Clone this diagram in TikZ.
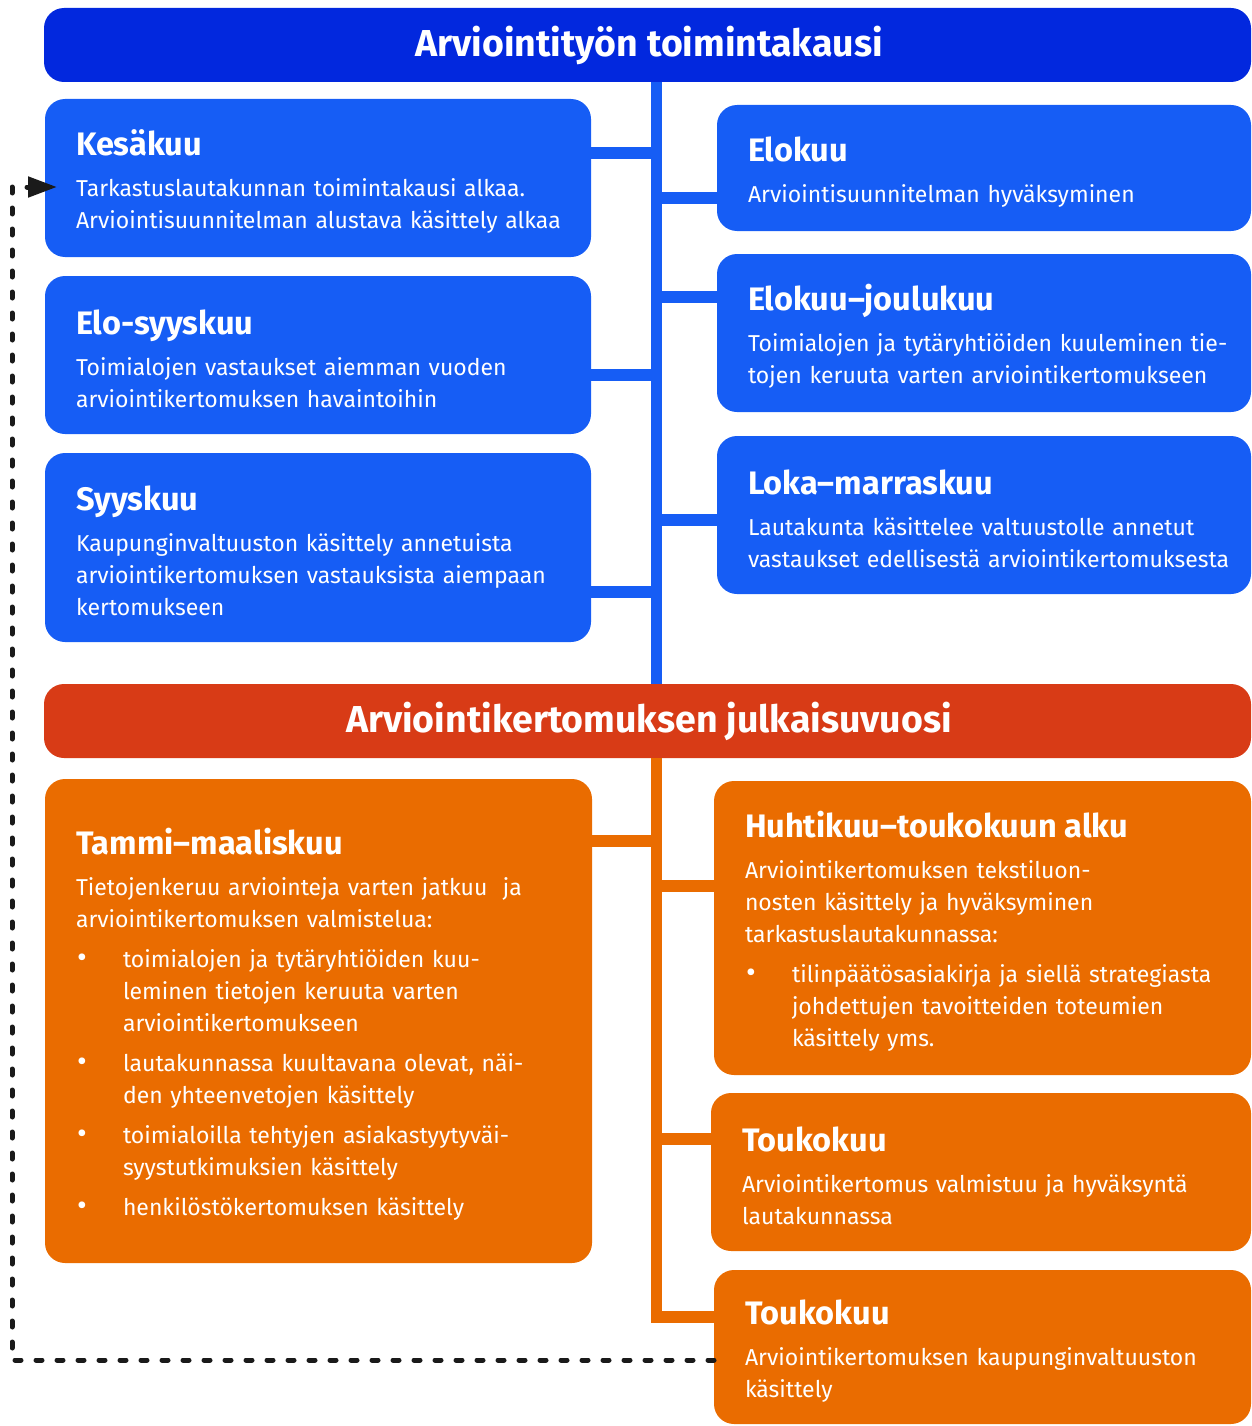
\documentclass[tikz,border=0pt]{standalone}
\usepackage{fontspec}
\setmainfont{Fira Sans}
\usetikzlibrary{arrows.meta}

\definecolor{headblue}{RGB}{2,40,222}
\definecolor{boxblue}{RGB}{22,93,245}
\definecolor{headred}{RGB}{216,59,22}
\definecolor{boxorange}{RGB}{234,108,0}
\definecolor{loopblack}{RGB}{26,26,26}

\newcommand\bodyfont{\fontsize{23}{32}\selectfont}
\newcommand\nl{\unskip\hfil\break}
\newcommand\bitem[1]{\par\vspace{8pt}\hangindent=47pt\hangafter=1\noindent\makebox[47pt][l]{\hspace{1pt}\scalebox{1.3}{\textbullet}}#1}
% title + body, paragraphs closed inside the node text
\newcommand\boxtext[2]{\parindent=0pt \rightskip=0pt plus 1fil minus 400pt \parfillskip=0pt plus 1fil
    {\fontsize{32.5}{34}\selectfont\bfseries\rule{0pt}{32pt}#1\par}\vspace{9pt}#2\par}

\begin{document}
\begin{tikzpicture}[x=1pt, y=-1pt]
    \tikzstyle{every node} = [inner sep = 0pt, outer sep = 0pt];
    \tikzstyle{head} = [anchor = north west, rectangle, rounded corners = 20pt, minimum width = 1207pt, minimum height = 74pt, text = white, font = \fontsize{37.5}{40}\selectfont\bfseries];
    \tikzstyle{tbox} = [anchor = north west, rectangle, rounded corners = 20pt, inner xsep = 31pt, text = white, font = \bodyfont];
    \tikzstyle{bbox} = [tbox, fill = boxblue];
    \tikzstyle{obox} = [tbox, fill = boxorange];
    \tikzstyle{bbar} = [draw = boxblue, line width = 11.5pt];
    \tikzstyle{obar} = [draw = boxorange, line width = 11.5pt];
    \tikzstyle{loop} = [draw = loopblack, line width = 5pt, line cap = round, dash pattern = on 6pt off 15pt];
    \useasboundingbox (0,0) rectangle (1251,1426);
    % headers:
    \node[head, fill = headblue] (head1) at (44,8) {\hspace{3pt}Arviointityön toimintakausi};
    \node[head, fill = headred] (head2) at (44,684) {\hspace{3pt}Arviointikertomuksen julkaisuvuosi};
    % spines:
    \coordinate (bspine) at (656.5,0);
    \coordinate (ospine) at (656.5,0);
    \coordinate (loopx) at (12,700);
    % blue boxes:
    \node[bbox, text width = 484pt, minimum height = 158pt] (kes) at (45,99) {\boxtext{Kesäkuu}{Tarkastuslautakunnan toimintakausi alkaa.\nl Arviointisuunnitelman alustava käsittely alkaa}};
    \node[bbox, text width = 484pt, minimum height = 158pt] (elosyys) at (45,276) {\boxtext{Elo-syyskuu}{Toimialojen vastaukset aiemman vuoden\nl arviointikertomuksen havaintoihin}};
    \node[bbox, text width = 484pt, minimum height = 189pt] (syys) at (45,453) {\boxtext{Syyskuu}{Kaupunginvaltuuston käsittely annetuista\nl arviointikertomuksen vastauksista aiempaan\nl kertomukseen}};
    \node[bbox, text width = 472pt, minimum height = 126pt] (elo) at (717,105) {\boxtext{Elokuu}{Arviointisuunnitelman hyväksyminen}};
    \node[bbox, text width = 472pt, minimum height = 158pt] (elojoulu) at (717,254) {\boxtext{Elokuu–joulukuu}{Toimialojen ja tytäryhtiöiden kuuleminen tie-\nl tojen keruuta varten arviointikertomukseen}};
    \node[bbox, text width = 472pt, minimum height = 158pt] (lokamarras) at (717,436) {\boxtext{Loka–marraskuu}{Lautakunta käsittelee valtuustolle annetut\nl vastaukset edellisestä arviointikertomuksesta}};
    % orange boxes:
    \node[obox, text width = 485pt, minimum height = 484pt] (tammi) at (45,779) {\boxtext{Tammi–maaliskuu}{Tietojenkeruu arviointeja varten jatkuu\ \ ja\nl arviointikertomuksen valmistelua:%
        \bitem{toimialojen ja tytäryhtiöiden kuu-\nl leminen tietojen keruuta varten\nl arviointikertomukseen}%
        \bitem{lautakunnassa kuultavana olevat, näi-\nl den yhteenvetojen käsittely}%
        \bitem{toimialoilla tehtyjen asiakastyytyväi-\nl syystutkimuksien käsittely}%
        \bitem{henkilöstökertomuksen käsittely}}};
    \node[obox, text width = 475pt, minimum height = 294pt] (huhti) at (714,781) {\boxtext{Huhtikuu–toukokuun alku}{Arviointikertomuksen tekstiluon-\nl nosten käsittely ja hyväksyminen\nl tarkastuslautakunnassa:%
        \bitem{tilinpäätösasiakirja ja siellä strategiasta\nl johdettujen tavoitteiden toteumien\nl käsittely yms.}}};
    \node[obox, text width = 478pt, minimum height = 158pt] (tou1) at (711,1093) {\boxtext{Toukokuu}{Arviointikertomus valmistuu ja hyväksyntä\nl lautakunnassa}};
    \node[obox, text width = 475pt, minimum height = 154pt] (tou2) at (714,1270) {\boxtext{Toukokuu}{Arviointikertomuksen kaupunginvaltuuston\nl käsittely}};
    % lines:
    \draw[bbar] (bspine |- head1.south) -- (bspine |- head2.north);
    \draw[bbar] (kes.east |- 0,153) -- (bspine |- 0,153);
    \draw[bbar] (elosyys.east |- 0,375) -- (bspine |- 0,375);
    \draw[bbar] (syys.east |- 0,592) -- (bspine |- 0,592);
    \draw[bbar] (bspine |- 0,198) -- (elo.west |- 0,198);
    \draw[bbar] (bspine |- 0,297) -- (elojoulu.west |- 0,297);
    \draw[bbar] (bspine |- 0,520) -- (lokamarras.west |- 0,520);
    \draw[obar] (ospine |- head2.south) |- (tou2.west |- 0,1317);
    \draw[obar] (tammi.east |- 0,841) -- (ospine |- 0,841);
    \draw[obar] (ospine |- 0,886) -- (huhti.west |- 0,886);
    \draw[obar] (ospine |- 0,1139) -- (tou1.west |- 0,1139);
    % loop back:
    \draw[loop, -{Triangle[length = 29pt, width = 20pt, fill = loopblack]}] ([yshift = -13pt]tou2.west) -| (loopx) |- ([xshift = 12pt, yshift = -9pt]kes.west);
\end{tikzpicture}
\end{document}
